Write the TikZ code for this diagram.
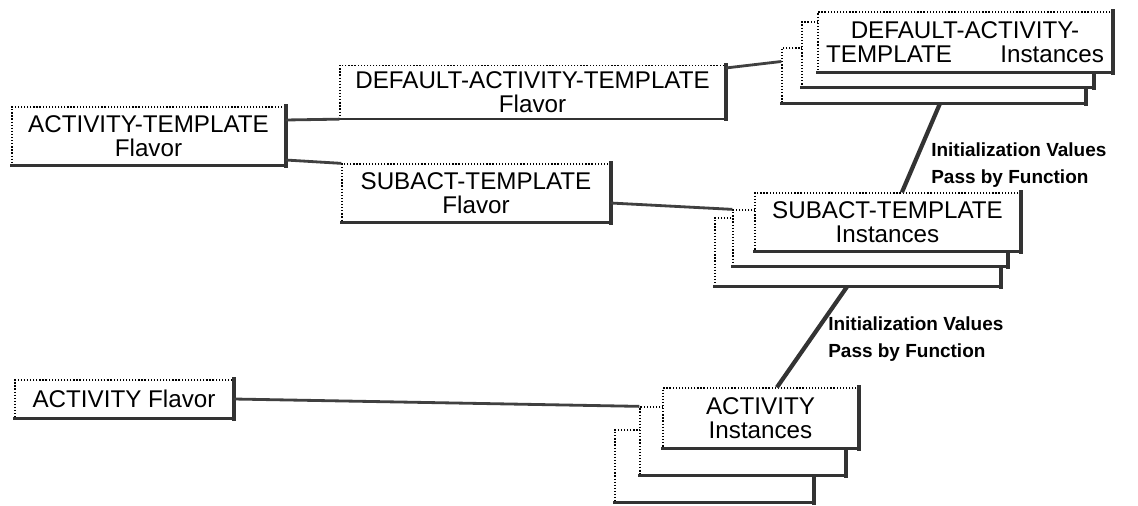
\documentclass[tikz,border=0pt]{standalone}
\usepackage{fontspec}
\setmainfont{Liberation Sans}

\tikzset{
    flavorbox/.style={draw, dash pattern=on 0.9pt off 1.3pt, line width=0.9pt, fill=white, inner sep=0pt, align=center,
        font=\fontsize{17.2}{17.5}\selectfont},
    rimline/.style={line width=3pt, black!80, line cap=rect},
    linkline/.style={line width=2pt, black!75},
    passline/.style={line width=3pt, black!80},
    notetext/.style={inner sep=0pt, align=left, font=\fontsize{13.5}{19}\selectfont\bfseries}
}

% thick right and bottom rim of a box
\newcommand{\boxrim}[1]{%
    \draw[rimline] (#1.north east) -- (#1.south east);
    \draw[rimline, line width=1.8pt] (#1.south east) -- (#1.south west);
}

\begin{document}
\begin{tikzpicture}[x=0.025cm, y=-0.025cm]
    \useasboundingbox (0,0) rectangle (1138,506);

    % Flavors
    \node[flavorbox, minimum width=6.825cm, minimum height=1.45cm] (atflavor) at (148.5,136) {ACTIVITY-TEMPLATE\\Flavor};
    \boxrim{atflavor}
    \node[flavorbox, minimum width=9.625cm, minimum height=1.325cm] (dflavor) at (532.5,92) {DEFAULT-ACTIVITY-TEMPLATE\\Flavor};
    \boxrim{dflavor}
    \node[flavorbox, minimum width=6.7cm, minimum height=1.45cm] (sflavor) at (476,193) {SUBACT-TEMPLATE\\Flavor};
    \boxrim{sflavor}
    \node[flavorbox, minimum width=5.45cm, minimum height=0.95cm] (aflavor) at (124,399) {ACTIVITY Flavor};
    \boxrim{aflavor}

    % DEFAULT-ACTIVITY-TEMPLATE instances
    \node[flavorbox, minimum width=7.575cm, minimum height=1.375cm] (dback) at (933.5,75.5) {};
    \boxrim{dback}
    \node[flavorbox, minimum width=7.275cm, minimum height=1.625cm] (dmid) at (947.5,54.5) {};
    \boxrim{dmid}
    \node[flavorbox, minimum width=7.35cm, minimum height=1.5cm] (dfront) at (965,42) {DEFAULT-ACTIVITY-\\TEMPLATE\hspace{2em}Instances};
    \boxrim{dfront}

    % SUBACT-TEMPLATE instances
    \node[flavorbox, minimum width=7.125cm, minimum height=1.7cm] (sback) at (857.5,252) {};
    \boxrim{sback}
    \node[flavorbox, minimum width=6.85cm, minimum height=1.4cm] (smid) at (870,238) {};
    \boxrim{smid}
    \node[flavorbox, minimum width=6.625cm, minimum height=1.45cm] (sfront) at (887.5,222) {SUBACT-TEMPLATE\\Instances};
    \boxrim{sfront}

    % ACTIVITY instances
    \node[flavorbox, minimum width=4.95cm, minimum height=1.8cm] (aback) at (714,466) {};
    \boxrim{aback}
    \node[flavorbox, minimum width=5.125cm, minimum height=1.7cm] (amid) at (742.5,441) {};
    \boxrim{amid}
    \node[flavorbox, minimum width=4.875cm, minimum height=1.5cm] (afront) at (760.5,418) {ACTIVITY\\Instances};
    \boxrim{afront}

    % Links
    \draw[linkline] ([yshift=0.4cm]atflavor.east) -- (dflavor.south west);
    \draw[linkline] ([yshift=-0.6cm]atflavor.east) -- (sflavor.north west);
    \draw[linkline] ([yshift=0.6cm]dflavor.east) -- ([yshift=0.35cm]dback.west);
    \draw[linkline] ([yshift=-0.25cm]sflavor.east) -- (smid.north west);
    \draw[linkline] (aflavor.east) -- (amid.north west);

    % Initialization values
    \draw[passline] ([xshift=0.16cm]dback.south) -- ([xshift=0.36cm]sfront.north);
    \draw[passline] ([xshift=-0.26cm]sback.south) -- ([xshift=0.41cm]afront.north);
    \node[notetext, anchor=west] (initone) at (931,165) {Initialization Values\\Pass by Function};
    \node[notetext, anchor=west] (inittwo) at (828,339) {Initialization Values\\Pass by Function};
\end{tikzpicture}
\end{document}
